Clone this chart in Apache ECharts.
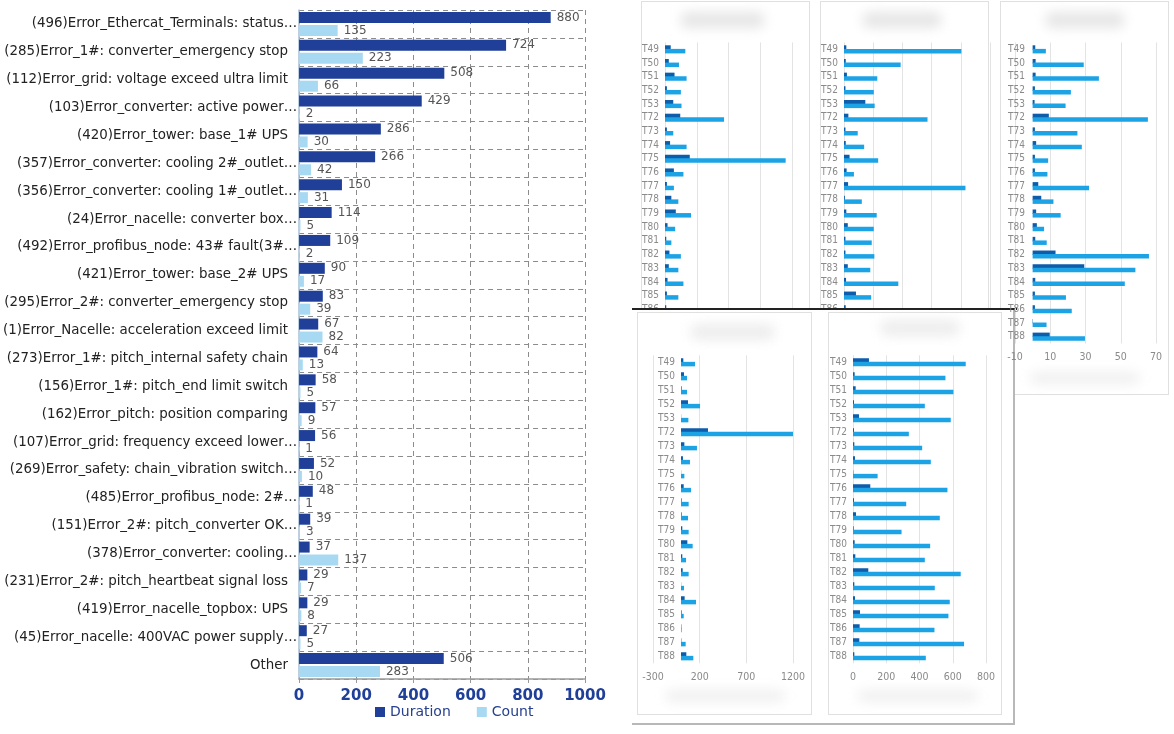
<!DOCTYPE html>
<html><head><meta charset="utf-8">
<script src="https://cdn.jsdelivr.net/npm/echarts@6/dist/echarts.min.js"></script>
<style>
html,body{margin:0;padding:0;background:#fff;width:1174px;height:734px;overflow:hidden;}
.layer{position:absolute;left:0;top:0;width:1174px;height:734px;}
.frame{position:absolute;border:1px solid #e0e0e0;background:#fff;box-sizing:border-box;}
.blob{position:absolute;background:#e6e6e6;filter:blur(6px);border-radius:10px;}
</style></head><body>
<div id="left" class="layer" style="z-index:1"></div>
<div class="layer" style="z-index:2">
  <div class="frame" style="left:641px;top:1px;width:169px;height:394px"></div>
  <div class="frame" style="left:820px;top:1px;width:169px;height:394px"></div>
  <div class="frame" style="left:1000px;top:1px;width:169px;height:394px"></div>
  <div class="blob" style="left:680px;top:12px;width:85px;height:16px"></div>
  <div class="blob" style="left:862px;top:12px;width:80px;height:16px"></div>
  <div class="blob" style="left:1045px;top:12px;width:80px;height:16px"></div>
  <div class="blob" style="left:1030px;top:372px;width:110px;height:12px;opacity:.6"></div>
</div>
<div id="top" class="layer" style="z-index:3"></div>
<div style="position:absolute;z-index:4;left:632px;top:310px;width:383px;height:415px;background:#fff;border-right:2px solid #b8b8b8;border-bottom:2px solid #b8b8b8;box-sizing:border-box"></div>
<div style="position:absolute;z-index:5;left:632px;top:308px;width:385px;height:1.5px;background:#222"></div>
<div class="layer" style="z-index:5;pointer-events:none">
  <div class="frame" style="left:637px;top:312px;width:175px;height:403px"></div>
  <div class="frame" style="left:828px;top:312px;width:174px;height:403px"></div>
  <div class="blob" style="left:690px;top:324px;width:85px;height:16px;opacity:.7"></div>
  <div class="blob" style="left:880px;top:320px;width:80px;height:16px;opacity:.7"></div>
  <div class="blob" style="left:665px;top:690px;width:120px;height:12px;opacity:.6"></div>
  <div class="blob" style="left:858px;top:690px;width:120px;height:12px;opacity:.6"></div>
</div>
<div id="bottom" class="layer" style="z-index:6"></div>
<script>
// ---------- main chart data ----------
const errCats = [
  "(496)Error_Ethercat_Terminals: status\u2026",
  "(285)Error_1#: converter_emergency stop",
  "(112)Error_grid: voltage exceed ultra limit",
  "(103)Error_converter: active power\u2026",
  "(420)Error_tower: base_1# UPS",
  "(357)Error_converter: cooling 2#_outlet\u2026",
  "(356)Error_converter: cooling 1#_outlet\u2026",
  "(24)Error_nacelle: converter box\u2026",
  "(492)Error_profibus_node: 43# fault(3#\u2026",
  "(421)Error_tower: base_2# UPS",
  "(295)Error_2#: converter_emergency stop",
  "(1)Error_Nacelle: acceleration exceed limit",
  "(273)Error_1#: pitch_internal safety chain",
  "(156)Error_1#: pitch_end limit switch",
  "(162)Error_pitch: position comparing",
  "(107)Error_grid: frequency exceed lower\u2026",
  "(269)Error_safety: chain_vibration switch\u2026",
  "(485)Error_profibus_node: 2#\u2026",
  "(151)Error_2#: pitch_converter OK\u2026",
  "(378)Error_converter: cooling\u2026",
  "(231)Error_2#: pitch_heartbeat signal loss",
  "(419)Error_nacelle_topbox: UPS",
  "(45)Error_nacelle: 400VAC power supply\u2026",
  "Other"
];
const durationVals = [880,724,508,429,286,266,150,114,109,90,83,67,64,58,57,56,52,48,39,37,29,29,27,506];
const countVals = [135,223,66,2,30,42,31,5,2,17,39,82,13,5,9,1,10,1,3,137,7,8,5,283];
const mainTicks = [0,200,400,600,800,1000];

// ---------- turbine panels data ----------
const turbines = ['T49','T50','T51','T52','T53','T72','T73','T74','T75','T76','T77','T78','T79','T80','T81','T82','T83','T84','T85','T86','T87','T88'];
const p1Dark  = [9,6,15,3,13,24,3,8,39,14,3,10,17,4,2,7,6,4,3,2,3,5];
const p1Light = [32,22,34,25,26,93,13,34,190,29,14,21,41,16,10,25,21,29,21,15,14,20];
const p2Dark  = [8,6,10,5,73,15,5,6,19,9,14,3,8,13,5,5,13,7,41,6,5,6];
const p2Light = [402,194,114,102,105,286,47,69,117,34,416,61,112,102,95,104,90,186,93,190,120,150];
const p3Dark  = [1.5,1.7,1.7,1.3,1.1,9.2,1.3,2,1.3,1.3,3.2,4.9,2,2.4,1.5,13,29.3,1.5,1.3,1.3,0.2,9.7];
const p3Light = [7.5,29,37.6,21.7,18.7,65.4,25.4,27.9,8.8,8.4,32,11.8,15.9,6.5,8,66,58.3,52.3,18.9,22.2,7.9,29.7];
const p4Dark  = [25,32,7,75,2,289,36,21,2,29,7,7,14,68,14,18,2,39,7,4,4,57];
const p4Light = [150,64,64,204,79,1200,171,96,36,107,82,75,82,125,54,82,32,161,29,7,50,132];
const p5Dark  = [96,10,16,6,36,6,8,12,2,104,6,18,4,10,14,92,8,12,42,40,38,8];
const p5Light = [678,556,604,432,588,336,416,468,148,568,320,522,292,464,432,648,492,582,574,490,668,438];

const DARK_NAVY = '#1f3f98';
const LIGHT_CYAN = '#a7daf2';
const PANEL_DARK = '#0d5dab';
const PANEL_LIGHT = '#1ba3e6';
const PF = "'Liberation Sans Narrow','DejaVu Sans Condensed',sans-serif";
const plain = function(v){ return String(v); };

// ---------- left chart ----------
const left = echarts.init(document.getElementById('left'), null, {renderer:'canvas'});
left.setOption({
  animation:false,
  textStyle:{fontFamily:'DejaVu Sans'},
  grid:{left:297, top:10, width:288, height:669, containLabel:false},
  legend:{
    data:['Duration','Count'], left:370, top:700, itemWidth:10, itemHeight:10, itemGap:26,
    icon:'rect', textStyle:{color:'#27408f', fontSize:14, fontFamily:'DejaVu Sans'}
  },
  xAxis:{
    type:'value', min:mainTicks[0], max:mainTicks[mainTicks.length-1], interval:mainTicks[1]-mainTicks[0],
    axisLine:{show:true, lineStyle:{color:'#9a9a9a', width:1.5}},
    axisTick:{show:true, length:4, lineStyle:{color:'#9a9a9a'}},
    axisLabel:{color:DARK_NAVY, fontWeight:'bold', fontSize:15, margin:10, fontFamily:'DejaVu Sans', formatter:plain},
    splitLine:{show:true, lineStyle:{color:'#8c8c8c', type:[5,4], width:1}}
  },
  yAxis:{
    type:'category', data:errCats, inverse:true,
    axisLine:{show:true, lineStyle:{color:'#a9bfd6', width:1.5}},
    axisTick:{show:false},
    splitLine:{show:true, lineStyle:{color:'#8c8c8c', type:[5,4], width:1}},
    axisLabel:{
      color:'#222', fontSize:13.4, margin:2, fontFamily:'DejaVu Sans',
      formatter:function(v){ return v.endsWith('\u2026') ? v : '{p|' + v + '}'; },
      rich:{p:{padding:[0,9,0,0], color:'#222', fontSize:13.4, fontFamily:'DejaVu Sans'}}
    }
  },
  series:[
    {name:'Duration', type:'bar', data:durationVals, barWidth:11, barGap:'18%', itemStyle:{color:DARK_NAVY},
     label:{show:true, position:'right', distance:6, color:'#555', fontSize:12, fontFamily:'DejaVu Sans'}},
    {name:'Count', type:'bar', data:countVals, barWidth:11, itemStyle:{color:LIGHT_CYAN},
     label:{show:true, position:'right', distance:6, color:'#555', fontSize:12, fontFamily:'DejaVu Sans'}}
  ]
});

// ---------- panel helper ----------
function buildPanels(panels){
  const grid=[], xAxis=[], yAxis=[], series=[];
  panels.forEach(function(p, i){
    grid.push({left:p.left, top:p.top, width:p.width, height:p.height, containLabel:false});
    xAxis.push({
      gridIndex:i, type:'value', min:p.min, max:p.max, interval:p.interval,
      axisLine:{show:false}, axisTick:{show:false},
      splitLine:{show:true, lineStyle:{color:'#e3e3e3', width:1}},
      axisLabel:{color:'#8a8a8a', fontSize:10.5, fontFamily:PF, margin:8, formatter:plain}
    });
    yAxis.push({
      gridIndex:i, type:'category', data:turbines, inverse:true,
      axisLine:{show:false, onZero:false}, axisTick:{show:false}, splitLine:{show:false},
      axisLabel:{color:'#8a8a8a', fontSize:10, fontFamily:PF, margin:p.labelMargin}
    });
    series.push({type:'bar', xAxisIndex:i, yAxisIndex:i, data:p.dark, barWidth:4.5, barGap:'-20%',
      itemStyle:{color:PANEL_DARK}, silent:true});
    series.push({type:'bar', xAxisIndex:i, yAxisIndex:i, data:p.light, barWidth:4.5,
      itemStyle:{color:PANEL_LIGHT}, silent:true});
  });
  return {animation:false, grid:grid, xAxis:xAxis, yAxis:yAxis, series:series};
}

const topChart = echarts.init(document.getElementById('top'));
topChart.setOption(buildPanels([
  {left:665, width:127, top:42.5, height:301, min:0, max:200, interval:50, dark:p1Dark, light:p1Light, labelMargin:6},
  {left:844, width:146, top:42.5, height:301, min:0, max:500, interval:100, dark:p2Dark, light:p2Light, labelMargin:6}
]));

const bottomChart = echarts.init(document.getElementById('bottom'));
bottomChart.setOption(buildPanels([
  {left:653, width:140, top:355.3, height:308, min:-300, max:1200, interval:500, dark:p4Dark, light:p4Light, labelMargin:-22},
  {left:853, width:133, top:355.3, height:308, min:0, max:800, interval:200, dark:p5Dark, light:p5Light, labelMargin:6},
  {left:1015, width:141, top:42.5, height:301, min:-10, max:70, interval:20, dark:p3Dark, light:p3Light, labelMargin:-10}
]));
</script>
</body></html>
